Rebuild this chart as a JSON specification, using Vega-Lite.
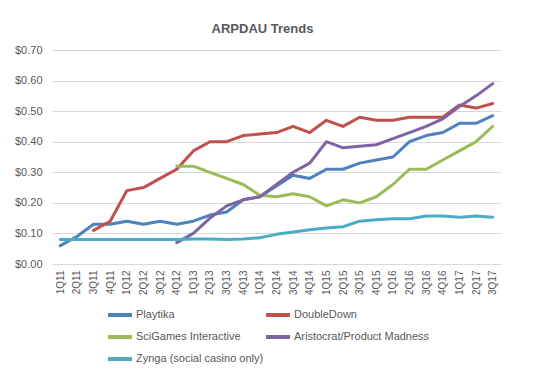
{
  "$schema": "https://vega.github.io/schema/vega-lite/v6.json",
  "width": 449,
  "height": 214,
  "autosize": "none",
  "padding": {"left": 52, "top": 50, "right": 42, "bottom": 111},
  "background": "white",
  "title": {"text": "ARPDAU  Trends", "fontSize": 13, "fontWeight": "bold", "color": "#595959", "font": "Liberation Sans", "anchor": "middle", "dx": -14, "offset": 8},
  "datasets": {
    "rows": [
      {"q":"1Q11","s":"Playtika","v":0.06},{"q":"2Q11","s":"Playtika","v":0.09},{"q":"3Q11","s":"Playtika","v":0.13},{"q":"4Q11","s":"Playtika","v":0.13},
      {"q":"1Q12","s":"Playtika","v":0.14},{"q":"2Q12","s":"Playtika","v":0.13},{"q":"3Q12","s":"Playtika","v":0.14},{"q":"4Q12","s":"Playtika","v":0.13},
      {"q":"1Q13","s":"Playtika","v":0.14},{"q":"2Q13","s":"Playtika","v":0.16},{"q":"3Q13","s":"Playtika","v":0.17},{"q":"4Q13","s":"Playtika","v":0.21},
      {"q":"1Q14","s":"Playtika","v":0.22},{"q":"2Q14","s":"Playtika","v":0.255},{"q":"3Q14","s":"Playtika","v":0.29},{"q":"4Q14","s":"Playtika","v":0.28},
      {"q":"1Q15","s":"Playtika","v":0.31},{"q":"2Q15","s":"Playtika","v":0.31},{"q":"3Q15","s":"Playtika","v":0.33},{"q":"4Q15","s":"Playtika","v":0.34},
      {"q":"1Q16","s":"Playtika","v":0.35},{"q":"2Q16","s":"Playtika","v":0.40},{"q":"3Q16","s":"Playtika","v":0.42},{"q":"4Q16","s":"Playtika","v":0.43},
      {"q":"1Q17","s":"Playtika","v":0.46},{"q":"2Q17","s":"Playtika","v":0.46},{"q":"3Q17","s":"Playtika","v":0.485},

      {"q":"3Q11","s":"DoubleDown","v":0.11},{"q":"4Q11","s":"DoubleDown","v":0.14},
      {"q":"1Q12","s":"DoubleDown","v":0.24},{"q":"2Q12","s":"DoubleDown","v":0.25},{"q":"3Q12","s":"DoubleDown","v":0.28},{"q":"4Q12","s":"DoubleDown","v":0.31},
      {"q":"1Q13","s":"DoubleDown","v":0.37},{"q":"2Q13","s":"DoubleDown","v":0.40},{"q":"3Q13","s":"DoubleDown","v":0.40},{"q":"4Q13","s":"DoubleDown","v":0.42},
      {"q":"1Q14","s":"DoubleDown","v":0.425},{"q":"2Q14","s":"DoubleDown","v":0.43},{"q":"3Q14","s":"DoubleDown","v":0.45},{"q":"4Q14","s":"DoubleDown","v":0.43},
      {"q":"1Q15","s":"DoubleDown","v":0.47},{"q":"2Q15","s":"DoubleDown","v":0.45},{"q":"3Q15","s":"DoubleDown","v":0.48},{"q":"4Q15","s":"DoubleDown","v":0.47},
      {"q":"1Q16","s":"DoubleDown","v":0.47},{"q":"2Q16","s":"DoubleDown","v":0.48},{"q":"3Q16","s":"DoubleDown","v":0.48},{"q":"4Q16","s":"DoubleDown","v":0.48},
      {"q":"1Q17","s":"DoubleDown","v":0.52},{"q":"2Q17","s":"DoubleDown","v":0.51},{"q":"3Q17","s":"DoubleDown","v":0.525},

      {"q":"4Q12","s":"SciGames Interactive","v":0.32},
      {"q":"1Q13","s":"SciGames Interactive","v":0.32},{"q":"2Q13","s":"SciGames Interactive","v":0.30},{"q":"3Q13","s":"SciGames Interactive","v":0.28},{"q":"4Q13","s":"SciGames Interactive","v":0.26},
      {"q":"1Q14","s":"SciGames Interactive","v":0.225},{"q":"2Q14","s":"SciGames Interactive","v":0.22},{"q":"3Q14","s":"SciGames Interactive","v":0.23},{"q":"4Q14","s":"SciGames Interactive","v":0.22},
      {"q":"1Q15","s":"SciGames Interactive","v":0.19},{"q":"2Q15","s":"SciGames Interactive","v":0.21},{"q":"3Q15","s":"SciGames Interactive","v":0.20},{"q":"4Q15","s":"SciGames Interactive","v":0.22},
      {"q":"1Q16","s":"SciGames Interactive","v":0.26},{"q":"2Q16","s":"SciGames Interactive","v":0.31},{"q":"3Q16","s":"SciGames Interactive","v":0.31},{"q":"4Q16","s":"SciGames Interactive","v":0.34},
      {"q":"1Q17","s":"SciGames Interactive","v":0.37},{"q":"2Q17","s":"SciGames Interactive","v":0.40},{"q":"3Q17","s":"SciGames Interactive","v":0.45},

      {"q":"4Q12","s":"Aristocrat/Product Madness","v":0.07},
      {"q":"1Q13","s":"Aristocrat/Product Madness","v":0.10},{"q":"2Q13","s":"Aristocrat/Product Madness","v":0.15},{"q":"3Q13","s":"Aristocrat/Product Madness","v":0.19},{"q":"4Q13","s":"Aristocrat/Product Madness","v":0.21},
      {"q":"1Q14","s":"Aristocrat/Product Madness","v":0.22},{"q":"2Q14","s":"Aristocrat/Product Madness","v":0.26},{"q":"3Q14","s":"Aristocrat/Product Madness","v":0.30},{"q":"4Q14","s":"Aristocrat/Product Madness","v":0.33},
      {"q":"1Q15","s":"Aristocrat/Product Madness","v":0.40},{"q":"2Q15","s":"Aristocrat/Product Madness","v":0.38},{"q":"3Q15","s":"Aristocrat/Product Madness","v":0.385},{"q":"4Q15","s":"Aristocrat/Product Madness","v":0.39},
      {"q":"1Q16","s":"Aristocrat/Product Madness","v":0.41},{"q":"2Q16","s":"Aristocrat/Product Madness","v":0.43},{"q":"3Q16","s":"Aristocrat/Product Madness","v":0.45},{"q":"4Q16","s":"Aristocrat/Product Madness","v":0.475},
      {"q":"1Q17","s":"Aristocrat/Product Madness","v":0.515},{"q":"2Q17","s":"Aristocrat/Product Madness","v":0.55},{"q":"3Q17","s":"Aristocrat/Product Madness","v":0.59},

      {"q":"1Q11","s":"Zynga (social casino only)","v":0.08},{"q":"2Q11","s":"Zynga (social casino only)","v":0.08},{"q":"3Q11","s":"Zynga (social casino only)","v":0.08},{"q":"4Q11","s":"Zynga (social casino only)","v":0.08},
      {"q":"1Q12","s":"Zynga (social casino only)","v":0.08},{"q":"2Q12","s":"Zynga (social casino only)","v":0.08},{"q":"3Q12","s":"Zynga (social casino only)","v":0.08},{"q":"4Q12","s":"Zynga (social casino only)","v":0.08},
      {"q":"1Q13","s":"Zynga (social casino only)","v":0.082},{"q":"2Q13","s":"Zynga (social casino only)","v":0.082},{"q":"3Q13","s":"Zynga (social casino only)","v":0.08},{"q":"4Q13","s":"Zynga (social casino only)","v":0.082},
      {"q":"1Q14","s":"Zynga (social casino only)","v":0.086},{"q":"2Q14","s":"Zynga (social casino only)","v":0.097},{"q":"3Q14","s":"Zynga (social casino only)","v":0.105},{"q":"4Q14","s":"Zynga (social casino only)","v":0.112},
      {"q":"1Q15","s":"Zynga (social casino only)","v":0.118},{"q":"2Q15","s":"Zynga (social casino only)","v":0.122},{"q":"3Q15","s":"Zynga (social casino only)","v":0.14},{"q":"4Q15","s":"Zynga (social casino only)","v":0.145},
      {"q":"1Q16","s":"Zynga (social casino only)","v":0.148},{"q":"2Q16","s":"Zynga (social casino only)","v":0.148},{"q":"3Q16","s":"Zynga (social casino only)","v":0.157},{"q":"4Q16","s":"Zynga (social casino only)","v":0.157},
      {"q":"1Q17","s":"Zynga (social casino only)","v":0.153},{"q":"2Q17","s":"Zynga (social casino only)","v":0.157},{"q":"3Q17","s":"Zynga (social casino only)","v":0.153}
    ]
  },
  "data": {"name": "rows"},
  "mark": {"type": "line", "strokeWidth": 3, "strokeCap": "round", "strokeJoin": "round"},
  "encoding": {
    "x": {
      "field": "q", "type": "ordinal", "sort": null,
      "scale": {"type": "point", "padding": 0.5},
      "axis": {"title": null, "labelAngle": -90, "labelFontSize": 10, "labelColor": "#595959", "labelFont": "Liberation Sans", "ticks": false, "domain": false, "grid": false, "labelPadding": 6}
    },
    "y": {
      "field": "v", "type": "quantitative",
      "scale": {"domain": [0, 0.7], "nice": false},
      "axis": {"title": null, "values": [0, 0.1, 0.2, 0.3, 0.4, 0.5, 0.6, 0.7], "format": "$.2f", "labelFontSize": 11, "labelColor": "#595959", "labelFont": "Liberation Sans", "ticks": false, "domain": false, "gridColor": "#d9d9d9", "gridWidth": 1, "labelPadding": 10}
    },
    "color": {
      "field": "s", "type": "nominal",
      "scale": {
        "domain": ["Playtika", "SciGames Interactive", "Zynga (social casino only)", "DoubleDown", "Aristocrat/Product Madness"],
        "range": ["#4F81BD", "#9BBB59", "#4BACC6", "#C0504D", "#8064A2"]
      },
      "legend": {
        "title": null, "orient": "none", "legendX": 54, "legendY": 251, "columns": 2,
        "symbolType": "stroke", "symbolSize": 576, "symbolStrokeWidth": 4,
        "labelFontSize": 11, "labelColor": "#595959", "labelFont": "Liberation Sans", "labelOffset": 2,
        "rowPadding": -17, "columnPadding": -9
      }
    }
  },
  "config": {"view": {"stroke": null}}
}
